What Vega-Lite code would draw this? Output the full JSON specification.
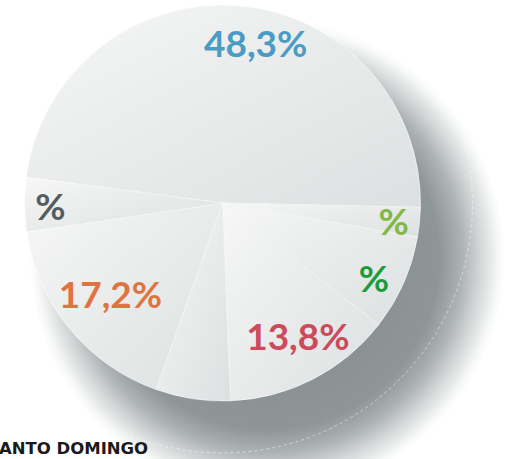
{
  "$schema": "https://vega.github.io/schema/vega-lite/v6.json",
  "width": 445,
  "height": 406,
  "autosize": {"type": "none"},
  "padding": {"left": 0, "top": 0, "right": 82, "bottom": 53},
  "background": "#ffffff",
  "view": {"stroke": null},
  "title": {
    "text": "SANTO DOMINGO",
    "orient": "bottom",
    "anchor": "start",
    "frame": "group",
    "dx": -13,
    "offset": -55,
    "baseline": "top",
    "font": "DejaVu Sans",
    "fontSize": 16.5,
    "fontWeight": "bold",
    "color": "#1a1a1a"
  },
  "data": {
    "values": [
      {"idx": 1, "slice": "s1", "value": 48.3, "label": "48,3%"},
      {"idx": 2, "slice": "s2", "value": 2.4, "label": "%"},
      {"idx": 3, "slice": "s3", "value": 7.8, "label": "%"},
      {"idx": 4, "slice": "s4", "value": 13.8, "label": "13,8%"},
      {"idx": 5, "slice": "s5", "value": 6.1, "label": ""},
      {"idx": 6, "slice": "s6", "value": 17.2, "label": "17,2%"},
      {"idx": 7, "slice": "s7", "value": 4.4, "label": "%"}
    ]
  },
  "layer": [
    {
      "data": {"values": [{"k": 1}]},
      "mark": {
        "type": "arc",
        "theta": 0,
        "theta2": 6.2832,
        "radius": 238,
        "xOffset": 45,
        "yOffset": 55,
        "fill": {
          "gradient": "radial",
          "x1": 0.5, "y1": 0.5, "r1": 0,
          "x2": 0.5, "y2": 0.5, "r2": 0.5,
          "stops": [
            {"offset": 0, "color": "#80888a"},
            {"offset": 0.72, "color": "#8d9597"},
            {"offset": 0.82, "color": "#aeb3b4"},
            {"offset": 0.9, "color": "#d6d9d9"},
            {"offset": 0.97, "color": "#f6f7f7"},
            {"offset": 1, "color": "#ffffff"}
          ]
        }
      },
      "encoding": {}
    },
    {
      "data": {"values": [{"k": 1}]},
      "mark": {
        "type": "arc",
        "theta": 0,
        "theta2": 6.2832,
        "radius": 250,
        "fill": null,
        "filled": false,
        "stroke": "#ffffff",
        "strokeWidth": 0.8,
        "strokeDash": [3, 3],
        "strokeOpacity": 0.6
      },
      "encoding": {}
    },
    {
      "mark": {
        "type": "arc",
        "radius": 198,
        "fill": {
          "gradient": "linear",
          "x1": 0, "y1": 0, "x2": 1, "y2": 1,
          "stops": [
            {"offset": 0, "color": "#f6f7f6"},
            {"offset": 1, "color": "#dce0e0"}
          ]
        },
        "stroke": "#ffffff",
        "strokeWidth": 0.8,
        "strokeOpacity": 0.7
      },
      "encoding": {
        "theta": {"field": "value", "type": "quantitative", "stack": true, "scale": {"domain": [0, 100], "range": [4.8416, 11.1248]}},
        "order": {"field": "idx", "type": "quantitative"}
      }
    },
    {
      "mark": {"type": "text", "radius": 161, "dx": 21, "dy": 4, "font": "Lato", "fontSize": 37, "fontWeight": "bold", "align": "center", "baseline": "middle"},
      "encoding": {
        "theta": {"field": "value", "type": "quantitative", "stack": true, "scale": {"domain": [0, 100], "range": [4.8416, 11.1248]}},
        "order": {"field": "idx", "type": "quantitative"},
        "text": {"condition": {"test": "datum.idx == 1", "field": "label"}, "value": ""},
        "color": {"field": "slice", "type": "nominal", "legend": null, "scale": {"domain": ["s1", "s2", "s3", "s4", "s5", "s6", "s7"], "range": ["#4a9cc4", "#82b845", "#1f9a3d", "#cc4a5c", "#999999", "#e07441", "#545e5e"]}}
      }
    },
    {
      "mark": {"type": "text", "radius": 172, "dy": 4, "font": "Lato", "fontSize": 37, "fontWeight": "bold", "align": "center", "baseline": "middle"},
      "encoding": {
        "theta": {"field": "value", "type": "quantitative", "stack": true, "scale": {"domain": [0, 100], "range": [4.8416, 11.1248]}},
        "order": {"field": "idx", "type": "quantitative"},
        "text": {"condition": {"test": "datum.idx == 2 || datum.idx == 7", "field": "label"}, "value": ""},
        "color": {"field": "slice", "type": "nominal", "legend": null}
      }
    },
    {
      "mark": {"type": "text", "radius": 170, "dx": -4, "dy": 9, "font": "Lato", "fontSize": 37, "fontWeight": "bold", "align": "center", "baseline": "middle"},
      "encoding": {
        "theta": {"field": "value", "type": "quantitative", "stack": true, "scale": {"domain": [0, 100], "range": [4.8416, 11.1248]}},
        "order": {"field": "idx", "type": "quantitative"},
        "text": {"condition": {"test": "datum.idx == 3", "field": "label"}, "value": ""},
        "color": {"field": "slice", "type": "nominal", "legend": null}
      }
    },
    {
      "mark": {"type": "text", "radius": 152, "dx": 6, "dy": 1, "font": "Lato", "fontSize": 37, "fontWeight": "bold", "align": "center", "baseline": "middle"},
      "encoding": {
        "theta": {"field": "value", "type": "quantitative", "stack": true, "scale": {"domain": [0, 100], "range": [4.8416, 11.1248]}},
        "order": {"field": "idx", "type": "quantitative"},
        "text": {"condition": {"test": "datum.idx == 4", "field": "label"}, "value": ""},
        "color": {"field": "slice", "type": "nominal", "legend": null}
      }
    },
    {
      "mark": {"type": "text", "radius": 145, "dy": 2, "font": "Lato", "fontSize": 37, "fontWeight": "bold", "align": "center", "baseline": "middle"},
      "encoding": {
        "theta": {"field": "value", "type": "quantitative", "stack": true, "scale": {"domain": [0, 100], "range": [4.8416, 11.1248]}},
        "order": {"field": "idx", "type": "quantitative"},
        "text": {"condition": {"test": "datum.idx == 6", "field": "label"}, "value": ""},
        "color": {"field": "slice", "type": "nominal", "legend": null}
      }
    }
  ]
}
